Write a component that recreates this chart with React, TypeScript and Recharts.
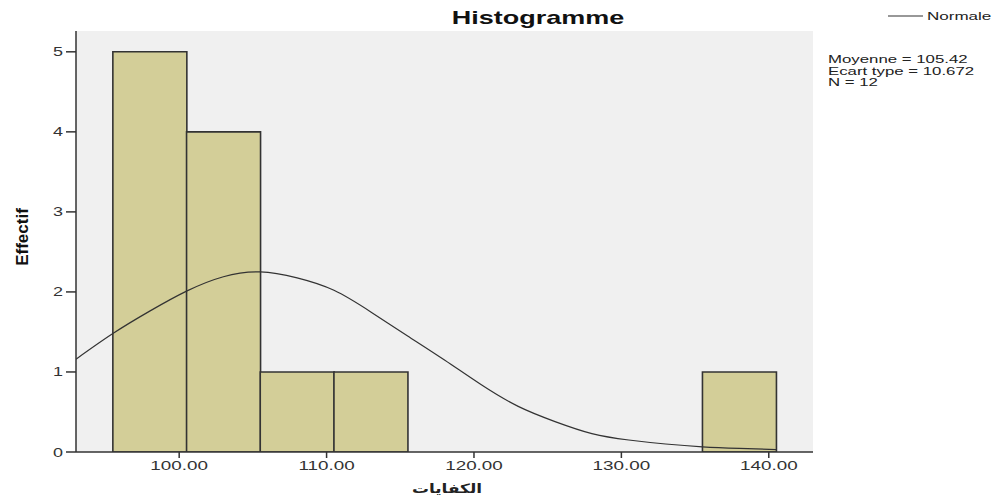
import React from "react";
import { ComposedChart, Bar, Line, XAxis, YAxis, CartesianGrid } from "recharts";

// histogram bins (centre of each 5-wide bin) and counts
const binCenters = [98, 103, 108, 113, 138];
const binCounts = [5, 4, 1, 1, 1];

// normal curve, every 2.5 units
const curveX = [93, 95.5, 98, 100.5, 103, 105.5, 108, 110.5, 113, 115.5, 118, 120.5, 123, 125.5, 128, 130.5, 133, 135.5, 138, 140.5];
const curveY = [1.16, 1.48, 1.76, 2.01, 2.19, 2.25, 2.175, 2.02, 1.75, 1.45, 1.15, 0.84, 0.57, 0.38, 0.23, 0.15, 0.1, 0.065, 0.045, 0.03];

const xTicks = [100, 110, 120, 130, 140];
const yTicks = [0, 1, 2, 3, 4, 5];
const xDomain = [93, 143];
const yDomain = [0, 5.26];

const statLines = ["Moyenne = 105.42", "Ecart type = 10.672", "N = 12"];

const W = 1005;
const H = 497;
const SX = 1.5; // the original export is stretched horizontally
const FONT = "'Liberation Sans', Arial, sans-serif";

const barData = binCenters.map((x, i) => ({ x, count: binCounts[i] }));
const curveData = curveX.map((x, i) => ({ x, y: curveY[i] }));

const XTick = ({ x, y, payload }: any) => (
  <text
    transform={`translate(${x},${y + 10}) scale(1.45,1)`}
    textAnchor="middle"
    fontSize={13}
    fontFamily={FONT}
    fill="#333"
  >
    {Number(payload.value).toFixed(2)}
  </text>
);

const YTick = ({ x, y, payload }: any) => (
  <text
    transform={`translate(${x},${y + 4.5}) scale(${SX},1)`}
    textAnchor="end"
    fontSize={12}
    fontFamily={FONT}
    fill="#333"
  >
    {payload.value}
  </text>
);

export default function App() {
  return (
    <div style={{ position: "absolute", left: 0, top: 0, width: W, height: H, background: "#fff" }}>
      <ComposedChart
        width={W}
        height={H}
        data={barData}
        margin={{ top: 31, right: 192, bottom: 0, left: 0 }}
        barCategoryGap={0}
        barGap={0}
      >
        <CartesianGrid fill="#f0f0f0" horizontal={false} vertical={false} />
        <XAxis
          dataKey="x"
          type="number"
          domain={xDomain}
          ticks={xTicks}
          allowDataOverflow
          height={45}
          tickSize={6}
          tickMargin={2}
          tick={<XTick />}
          axisLine={{ stroke: "#333", strokeWidth: 1.5 }}
          tickLine={{ stroke: "#333", strokeWidth: 1.5 }}
        />
        <XAxis
          xAxisId="curve"
          dataKey="x"
          type="number"
          orientation="top"
          domain={xDomain}
          allowDataOverflow
          height={0}
          tick={false}
          tickLine={false}
          axisLine={{ stroke: "#666", strokeWidth: 1.5 }}
        />
        <YAxis
          type="number"
          domain={yDomain}
          ticks={yTicks}
          allowDataOverflow
          width={76}
          tickSize={10}
          tickMargin={3}
          tick={<YTick />}
          axisLine={{ stroke: "#333", strokeWidth: 1.5 }}
          tickLine={{ stroke: "#333", strokeWidth: 1.5 }}
        />
        <YAxis
          yAxisId="r"
          type="number"
          orientation="right"
          domain={yDomain}
          allowDataOverflow
          width={0}
          tick={false}
          tickLine={false}
          axisLine={{ stroke: "#666", strokeWidth: 1.5 }}
        />
        <Bar
          dataKey="count"
          fill="#d3ce98"
          stroke="#333"
          strokeWidth={1.6}
          isAnimationActive={false}
        />
        <Line
          data={curveData}
          xAxisId="curve"
          yAxisId="r"
          dataKey="y"
          type="natural"
          stroke="#333"
          strokeWidth={1.2}
          dot={false}
          activeDot={false}
          isAnimationActive={false}
        />
      </ComposedChart>

      <svg
        width={W}
        height={H}
        style={{ position: "absolute", left: 0, top: 0, pointerEvents: "none" }}
      >
        <text
          transform={`translate(538,24) scale(${SX},1)`}
          textAnchor="middle"
          fontSize={18}
          fontWeight="bold"
          fontFamily={FONT}
          fill="#111"
        >
          Histogramme
        </text>

        <line x1={888} y1={16} x2={923} y2={16} stroke="#333" strokeWidth={1.2} />
        <text
          transform={`translate(927,20) scale(1.55,1)`}
          fontSize={11}
          fontFamily={FONT}
          fill="#222"
        >
          Normale
        </text>

        {statLines.map((s, i) => (
          <text
            key={s}
            transform={`translate(828,${63 + i * 11.5}) scale(1.6,1)`}
            fontSize={10.5}
            fontFamily={FONT}
            fill="#222"
          >
            {s}
          </text>
        ))}

        <text
          transform="translate(28,237) rotate(-90)"
          textAnchor="middle"
          fontSize={17}
          fontWeight="bold"
          fontFamily="'Liberation Sans Narrow', 'Liberation Sans', Arial, sans-serif"
          fill="#111"
        >
          Effectif
        </text>

        <text
          transform={`translate(447,493) scale(1.3,1)`}
          textAnchor="middle"
          fontSize={13}
          fontWeight="bold"
          fontFamily="'DejaVu Sans', sans-serif"
          fill="#222"
        >
          الكفايات
        </text>
      </svg>
    </div>
  );
}
